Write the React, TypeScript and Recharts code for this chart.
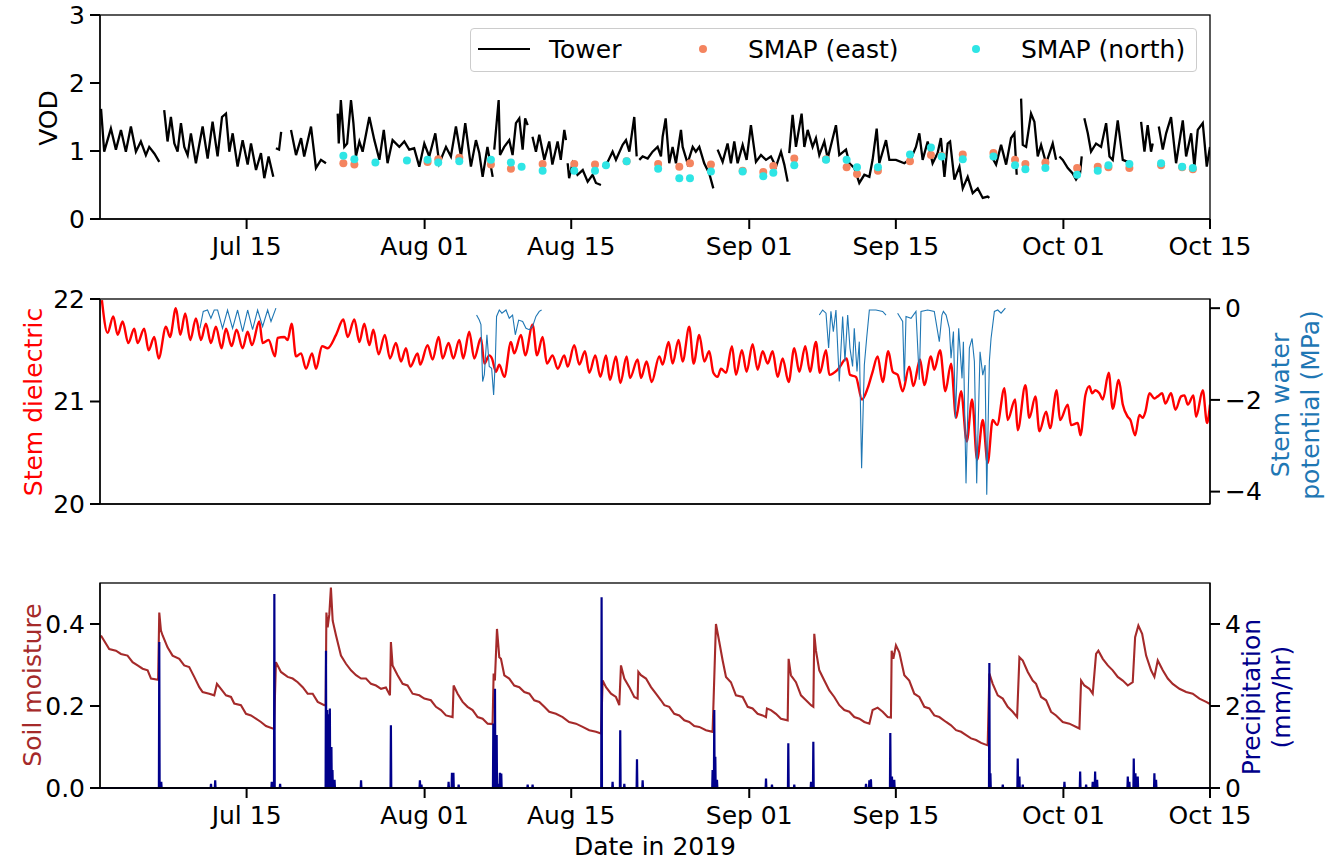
import React from 'react';
import { LineChart, Line, XAxis, YAxis } from 'recharts';

type Pt = [number, number];

// x values are days since Jul 1 2019 00:00
const dateTicks = [14, 31, 45, 62, 76, 92, 106];
const dateLabels = ['Jul 15', 'Aug 01', 'Aug 15', 'Sep 01', 'Sep 15', 'Oct 01', 'Oct 15'];

// --- VOD tower (black), split where the record has gaps
const towerA: Pt[] = [[0.1,1.62],[0.4,0.99],[1.04,1.33],[1.52,1.02],[2.0,1.31],[2.47,0.99],[2.95,1.36],[3.43,0.99],[3.9,1.14],[4.38,0.94],[4.7,1.06],[5.2,0.96],[5.66,0.84]];
const towerB: Pt[] = [[6.13,1.6],[6.45,1.14],[6.77,1.5],[7.1,1.11],[7.41,0.99],[7.73,1.41],[8.05,1.06],[8.37,0.94],[8.68,1.26],[9.16,0.82],[9.5,1.11],[9.8,1.36],[10.28,0.89],[10.75,1.43],[11.23,0.92],[11.65,1.5],[12.03,1.55],[12.35,0.99],[12.67,1.26],[13.14,0.77],[13.62,1.16],[14.1,0.8],[14.42,1.11],[14.9,0.72],[15.37,0.97],[15.69,0.6],[16.1,0.92],[16.55,0.62]];
const towerC: Pt[] = [[16.8,1.04],[17.1,1.02],[17.3,1.28]];
const towerD: Pt[] = [[18.24,1.31],[18.72,0.94],[19.2,1.19],[19.5,0.92],[20.15,1.36],[20.62,0.75],[21.1,0.87],[21.58,0.82]];
const towerE: Pt[] = [[22.7,1.55],[22.8,1.11],[23.0,1.75],[23.33,1.06],[23.6,1.11],[23.97,1.75],[24.2,1.41],[24.44,0.92],[24.77,1.14],[25.08,0.99],[25.72,1.5],[26.2,1.16],[26.68,0.87],[27.1,1.31],[27.46,0.82],[27.94,1.16],[28.58,1.06],[29.06,1.14],[29.53,1.02],[30.0,1.04],[30.49,0.77],[30.97,1.11],[31.44,0.92],[32.02,1.26],[32.4,0.82],[33.04,1.06],[33.51,0.92],[33.99,1.36],[34.47,0.92],[34.88,1.41],[35.42,0.77],[35.9,1.16],[36.22,0.97],[36.54,0.62],[37.0,1.06],[37.5,0.62]];
const towerF: Pt[] = [[37.65,1.02],[38.07,1.75],[38.2,0.94],[38.6,1.06],[39.08,1.16],[39.4,0.94],[39.72,1.41],[40.04,1.48],[40.36,1.02],[40.6,1.48],[40.84,1.38]];
const towerG: Pt[] = [[41.3,1.21],[41.63,0.99],[41.95,1.24],[42.43,0.87],[42.9,1.14],[43.2,0.8],[43.7,1.14],[44.0,0.87],[44.34,1.31],[44.5,1.16]];
const towerH: Pt[] = [[44.66,0.82],[44.8,0.6],[45.13,0.82],[45.6,0.65],[46.1,0.72],[46.57,0.55],[47.04,0.65],[47.36,0.53],[47.84,0.5]];
const towerI: Pt[] = [[48.0,0.77],[48.48,0.84],[48.95,0.99],[49.27,0.87],[49.91,1.09],[50.23,1.16],[50.55,0.99],[51.02,1.5],[51.25,0.92]];
const towerJ: Pt[] = [[51.5,0.87],[51.82,0.92],[52.3,0.89],[52.77,0.99],[53.25,1.06],[53.57,0.92],[53.73,1.21],[54.02,1.48],[54.36,0.82],[54.68,1.06],[55.0,0.82],[55.48,1.31],[55.64,1.06],[56.11,0.82],[56.6,1.06],[56.9,0.99],[57.23,1.06],[57.7,0.82],[58.18,0.67],[58.57,0.45]];
const towerK: Pt[] = [[58.98,1.02],[59.46,0.84],[59.93,1.11],[60.25,0.82],[60.57,1.14],[60.89,0.82],[61.37,1.09],[61.75,0.87],[62.16,1.38],[62.64,0.84],[63.12,0.94],[63.6,0.87],[64.07,0.92],[64.55,0.77],[65.03,0.99],[65.35,0.8],[65.67,0.55]];
const towerL: Pt[] = [[65.82,0.97],[66.14,1.53],[66.46,1.06],[67.0,1.55],[67.26,1.06],[67.58,1.31],[68.05,1.06],[68.37,1.19],[68.69,0.94],[69.17,1.14],[69.49,0.89],[70.28,1.38],[70.6,0.94],[71.24,1.02],[71.56,0.82],[72.03,0.75],[72.51,0.53],[72.99,0.65],[73.47,0.62],[73.78,0.87],[74.17,1.33],[74.42,0.82],[75.06,1.16],[75.38,0.87],[76.01,0.87],[76.81,0.82],[77.45,0.89],[77.92,1.06],[78.24,1.26],[78.56,0.87],[79.04,1.14],[79.51,0.82],[79.99,0.97],[80.3,1.19],[80.64,0.62],[80.95,1.11],[81.18,1.14],[81.59,0.58],[82.07,0.77],[82.39,0.45],[82.86,0.62],[83.34,0.38],[83.82,0.45],[84.3,0.31],[84.77,0.33],[84.93,0.31]];
const towerM: Pt[] = [[85.25,0.89],[85.57,0.8],[86.05,1.09],[86.53,0.8],[87.0,1.19],[87.32,1.26],[87.54,0.65]];
const towerN: Pt[] = [[87.96,1.77],[88.12,1.09],[88.44,1.06],[88.91,1.55],[89.23,1.43],[89.55,0.92],[89.87,1.09],[90.35,0.82],[90.98,1.11],[91.3,0.87]];
const towerO: Pt[] = [[91.62,0.92],[91.94,0.87],[92.42,0.75],[92.89,0.67],[93.21,0.58],[93.59,0.67],[93.75,0.92]];
const towerP: Pt[] = [[94.0,1.48],[94.33,1.26],[94.64,0.99],[95.12,1.11],[95.6,1.06],[96.08,1.41],[96.4,0.92],[96.71,0.87],[97.19,1.45],[97.67,0.87],[98.15,0.84]];
const towerQ: Pt[] = [[99.42,1.43],[99.74,0.99],[100.05,1.38],[100.37,0.99],[100.53,1.11]];
const towerR: Pt[] = [[101.11,1.36],[101.49,1.02],[101.81,1.26],[102.28,1.5],[102.76,0.82],[103.4,1.45],[103.72,0.92],[104.2,1.26],[104.51,0.77],[104.83,1.31],[105.31,1.41],[105.69,0.77],[106.0,1.06]];
const towerSegments = [towerA, towerB, towerC, towerD, towerE, towerF, towerG, towerH, towerI, towerJ, towerK, towerL, towerM, towerN, towerO, towerP, towerQ, towerR];

// --- SMAP overpasses
const smapEast: Pt[] = [[23.24,0.82],[24.29,0.8],[31.28,0.84],[32.3,0.88],[34.31,0.9],[37.33,0.8],[39.24,0.74],[42.27,0.81],[45.29,0.81],[47.27,0.8],[50.29,0.85],[53.3,0.81],[55.32,0.77],[56.34,0.82],[58.34,0.8],[61.37,0.71],[63.34,0.69],[64.3,0.78],[66.3,0.89],[69.33,0.88],[71.3,0.76],[72.29,0.66],[74.29,0.71],[77.35,0.85],[79.35,0.94],[80.37,0.93],[82.39,0.95],[85.32,0.97],[87.38,0.87],[88.37,0.81],[90.28,0.83],[93.31,0.75],[95.28,0.77],[96.3,0.76],[98.3,0.75],[101.33,0.79],[103.34,0.76],[104.36,0.73]];
const smapNorth: Pt[] = [[23.24,0.93],[24.29,0.88],[26.3,0.83],[29.31,0.86],[31.28,0.87],[32.3,0.83],[34.31,0.85],[37.33,0.87],[39.24,0.83],[40.26,0.77],[42.27,0.71],[45.29,0.71],[47.27,0.71],[48.32,0.79],[50.29,0.85],[53.3,0.74],[55.32,0.6],[56.34,0.6],[58.34,0.7],[61.37,0.7],[63.34,0.63],[64.3,0.68],[66.3,0.79],[69.33,0.87],[71.3,0.87],[72.29,0.76],[74.29,0.76],[77.35,0.95],[79.35,1.05],[80.37,0.92],[82.39,0.88],[85.32,0.92],[87.38,0.79],[88.37,0.73],[90.28,0.75],[93.31,0.65],[95.28,0.71],[96.3,0.79],[98.3,0.81],[101.33,0.82],[103.34,0.77],[104.36,0.75]];

// --- Stem dielectric (red, left axis)
const dielectric: Pt[] = [[0.18,21.99],[0.72,21.67],[1.27,21.83],[1.68,21.65],[2.16,21.78],[2.7,21.57],[3.27,21.71],[3.59,21.57],[4.22,21.71],[4.64,21.5],[5.18,21.63],[5.6,21.42],[6.3,21.73],[6.68,21.63],[7.25,21.91],[7.67,21.65],[8.14,21.86],[8.62,21.6],[9.16,21.81],[9.64,21.6],[10.12,21.76],[10.59,21.57],[11.07,21.73],[11.61,21.52],[12.03,21.71],[12.57,21.54],[13.04,21.7],[13.62,21.52],[14.1,21.68],[14.51,21.55],[15.21,21.78],[15.53,21.57],[16.1,21.6],[16.71,21.44],[16.96,21.62],[17.6,21.63],[17.92,21.6],[18.3,21.76],[18.72,21.44],[19.2,21.47],[19.67,21.32],[20.25,21.47],[20.63,21.32],[21.2,21.54],[21.74,21.52],[22.54,21.65],[23.24,21.8],[23.65,21.63],[24.29,21.8],[24.77,21.58],[25.24,21.76],[25.72,21.55],[26.1,21.7],[26.61,21.46],[27.2,21.65],[27.69,21.42],[28.26,21.57],[28.74,21.39],[29.22,21.52],[29.63,21.34],[30.33,21.47],[30.58,21.36],[31.28,21.55],[31.76,21.41],[32.34,21.63],[32.72,21.42],[33.29,21.57],[33.74,21.42],[34.31,21.6],[34.69,21.42],[35.26,21.68],[35.74,21.42],[36.38,21.62],[36.7,21.37],[37.17,21.45],[37.43,21.42],[37.81,21.29],[38.13,21.36],[38.61,21.24],[39.24,21.58],[39.56,21.47],[40.2,21.65],[40.61,21.45],[41.31,21.75],[41.73,21.45],[42.27,21.63],[42.68,21.37],[43.22,21.45],[43.7,21.32],[44.34,21.45],[44.66,21.34],[45.29,21.55],[45.77,21.36],[46.31,21.49],[46.73,21.28],[47.3,21.45],[47.78,21.24],[48.32,21.45],[48.7,21.21],[49.27,21.44],[49.69,21.18],[50.29,21.44],[50.61,21.23],[51.34,21.41],[51.66,21.23],[52.2,21.39],[52.68,21.19],[53.41,21.44],[53.73,21.36],[54.3,21.58],[54.68,21.37],[55.25,21.6],[55.64,21.39],[56.27,21.73],[56.69,21.37],[57.23,21.65],[57.71,21.39],[58.18,21.49],[58.57,21.28],[58.98,21.24],[59.3,21.32],[59.78,21.28],[60.35,21.54],[60.73,21.26],[61.3,21.5],[61.75,21.29],[62.32,21.56],[62.8,21.31],[63.28,21.49],[63.76,21.37],[64.23,21.49],[64.71,21.24],[65.19,21.42],[65.76,21.19],[66.3,21.52],[66.78,21.29],[67.35,21.54],[67.8,21.29],[68.37,21.58],[68.75,21.28],[69.33,21.5],[69.65,21.26],[70.44,21.31],[71.3,21.42],[71.62,21.26],[72.19,21.24],[72.76,21.02],[73.31,21.13],[73.78,21.29],[74.26,21.44],[74.74,21.19],[75.28,21.49],[75.7,21.29],[76.17,21.26],[76.65,21.1],[77.28,21.34],[77.67,21.15],[78.31,21.41],[78.72,21.16],[79.35,21.44],[79.67,21.31],[80.22,21.5],[80.73,21.1],[81.27,21.37],[81.75,20.84],[82.23,21.1],[82.77,20.61],[83.28,21.02],[83.76,20.43],[84.3,20.82],[84.77,20.4],[85.25,20.82],[85.67,20.77],[86.37,21.13],[86.68,20.82],[87.39,21.02],[87.64,20.72],[88.37,21.16],[88.75,20.84],[89.33,21.05],[89.71,20.71],[90.35,20.9],[90.73,20.74],[91.36,21.11],[91.68,20.82],[92.42,20.97],[92.73,20.77],[93.37,20.79],[93.63,20.67],[94.1,21.06],[94.48,21.15],[94.74,21.08],[95.06,21.11],[95.44,21.08],[95.76,21.02],[96.33,21.28],[96.71,20.93],[97.29,21.21],[97.67,20.97],[98.15,20.85],[98.4,20.82],[98.85,20.67],[99.26,20.87],[99.58,20.84],[99.83,20.9],[100.22,21.08],[100.69,21.03],[101.01,21.05],[101.43,21.08],[101.74,20.98],[102.28,21.08],[102.7,20.92],[103.24,21.05],[103.56,21.06],[103.88,20.97],[104.42,21.06],[104.67,20.85],[105.31,21.11],[105.72,20.79],[106.0,20.97]];

// --- Stem water potential (MPa, right axis), four logging periods
const waterPot1: Pt[] = [[9.54,-0.44],[9.86,-0.07],[10.27,-0.04],[10.59,-0.22],[10.91,-0.04],[11.23,-0.04],[11.7,-0.44],[12.18,-0.04],[12.66,-0.44],[13.14,-0.04],[13.62,-0.51],[14.1,-0.04],[14.57,-0.47],[15.05,-0.04],[15.53,-0.4],[16.01,-0.04],[16.33,-0.29],[16.8,0.0]];
const waterPot2: Pt[] = [[35.96,-0.15],[36.22,-0.26],[36.38,-0.36],[36.54,-1.6],[36.7,-1.45],[36.95,-0.58],[37.17,-1.27],[37.4,-1.31],[37.59,-1.89],[37.75,-1.16],[37.87,-0.18],[38.13,-0.04],[38.38,-0.11],[38.77,-0.04],[39.08,-0.22],[39.4,-0.15],[39.66,-0.58],[39.98,-0.26],[40.36,-0.29],[40.68,-0.44],[40.99,-0.47],[41.31,-0.4],[41.63,-0.18],[41.95,-0.07],[42.17,-0.04]];
const waterPot3: Pt[] = [[68.69,-0.15],[69.01,-0.04],[69.33,-0.11],[69.58,-0.87],[69.8,-0.07],[70.03,-0.51],[70.28,-0.04],[70.6,-1.6],[70.92,-0.18],[71.14,-1.16],[71.4,-0.15],[71.62,-0.87],[71.87,-1.27],[72.03,-0.44],[72.29,-1.38],[72.51,-0.73],[72.73,-3.49],[72.99,-1.24],[73.21,-0.66],[73.47,-0.04],[74.1,-0.04],[74.74,-0.07],[75.06,-0.15]];
const waterPot4: Pt[] = [[76.17,-0.11],[76.65,-0.29],[76.81,-1.6],[76.97,-0.18],[77.45,-0.22],[77.92,-0.07],[78.24,-1.56],[78.4,-0.07],[79.04,-0.04],[79.67,-0.07],[80.15,-0.73],[80.4,-0.15],[80.54,-0.07],[80.8,-0.15],[81.11,-0.44],[81.27,-1.09],[81.5,-0.51],[81.69,-2.4],[82.0,-0.44],[82.32,-1.53],[82.45,-0.73],[82.7,-3.82],[83.02,-0.87],[83.28,-0.66],[83.5,-1.16],[83.72,-3.82],[84.04,-0.95],[84.3,-1.46],[84.52,-1.24],[84.68,-4.07],[84.93,-1.16],[85.09,-0.66],[85.41,-0.07],[85.73,-0.04],[86.05,-0.11],[86.46,0.0]];
const waterPotSegments = [waterPot1, waterPot2, waterPot3, waterPot4];

// --- Soil moisture (left axis)
const soilMoisture: Pt[] = [[0.09,0.372],[0.88,0.339],[1.52,0.335],[2.0,0.327],[2.63,0.323],[3.11,0.307],[3.59,0.299],[4.07,0.291],[4.55,0.287],[4.87,0.267],[5.55,0.264],[5.66,0.428],[5.82,0.384],[5.98,0.372],[6.45,0.343],[6.93,0.323],[7.57,0.315],[8.04,0.299],[8.52,0.295],[9.0,0.271],[9.48,0.246],[9.8,0.234],[10.43,0.23],[10.91,0.226],[11.17,0.254],[11.55,0.242],[12.03,0.226],[12.51,0.222],[12.82,0.206],[13.46,0.202],[13.94,0.181],[14.42,0.177],[14.89,0.169],[15.37,0.161],[15.85,0.151],[16.49,0.145],[16.62,0.145],[16.8,0.307],[17.28,0.283],[17.92,0.271],[18.4,0.267],[18.88,0.258],[19.36,0.246],[19.83,0.23],[20.31,0.23],[20.79,0.21],[21.42,0.202],[21.55,0.202],[21.62,0.428],[21.74,0.392],[21.9,0.424],[22.05,0.489],[22.22,0.408],[22.54,0.372],[23.01,0.323],[23.49,0.303],[23.97,0.287],[24.45,0.275],[24.93,0.267],[25.4,0.267],[25.88,0.254],[26.36,0.25],[26.84,0.242],[27.3,0.245],[27.69,0.226],[27.78,0.356],[27.94,0.299],[28.42,0.275],[28.9,0.254],[29.37,0.25],[29.85,0.23],[30.49,0.226],[30.97,0.218],[31.6,0.214],[32.08,0.198],[32.56,0.19],[33.04,0.177],[33.67,0.173],[33.77,0.25],[34.15,0.23],[34.63,0.21],[35.1,0.198],[35.58,0.19],[36.06,0.173],[36.54,0.169],[37.02,0.157],[37.49,0.156],[37.59,0.279],[37.71,0.262],[37.91,0.388],[38.13,0.319],[38.29,0.315],[38.61,0.275],[39.08,0.267],[39.56,0.25],[40.04,0.246],[40.52,0.234],[41.0,0.23],[41.47,0.214],[41.95,0.21],[42.43,0.198],[42.9,0.186],[43.54,0.181],[44.18,0.173],[44.8,0.161],[45.45,0.157],[46.09,0.149],[46.72,0.141],[47.36,0.137],[47.85,0.133],[48.0,0.262],[48.32,0.246],[48.8,0.23],[49.27,0.222],[49.59,0.202],[49.75,0.299],[50.07,0.267],[50.55,0.246],[51.02,0.222],[51.34,0.218],[51.41,0.283],[51.66,0.275],[52.14,0.267],[52.62,0.246],[53.09,0.23],[53.57,0.214],[53.89,0.202],[54.36,0.198],[54.84,0.181],[55.32,0.177],[55.8,0.165],[56.27,0.161],[56.75,0.151],[57.23,0.149],[57.87,0.141],[58.5,0.137],[58.82,0.4],[59.14,0.356],[59.46,0.311],[59.78,0.271],[60.25,0.258],[60.73,0.226],[61.37,0.222],[61.85,0.198],[62.32,0.194],[62.8,0.181],[63.28,0.177],[63.6,0.173],[63.69,0.194],[64.07,0.19],[64.55,0.181],[65.03,0.169],[65.67,0.165],[65.76,0.315],[65.98,0.275],[66.46,0.258],[66.94,0.226],[67.42,0.214],[67.9,0.202],[68.12,0.198],[68.21,0.376],[68.37,0.335],[68.69,0.287],[69.17,0.262],[69.65,0.238],[70.12,0.222],[70.6,0.202],[71.08,0.19],[71.56,0.186],[72.03,0.173],[72.51,0.169],[72.99,0.161],[73.47,0.157],[73.78,0.19],[74.26,0.196],[74.74,0.186],[75.22,0.173],[75.53,0.172],[75.6,0.335],[75.76,0.315],[76.01,0.348],[76.33,0.331],[76.81,0.275],[77.28,0.262],[77.76,0.23],[78.24,0.222],[78.72,0.198],[79.2,0.194],[79.67,0.177],[80.15,0.173],[80.8,0.161],[81.27,0.153],[81.75,0.141],[82.23,0.137],[82.71,0.129],[83.18,0.121],[83.66,0.117],[84.14,0.11],[84.77,0.104],[84.93,0.279],[85.25,0.254],[85.73,0.226],[86.21,0.218],[86.68,0.198],[87.16,0.186],[87.58,0.173],[87.8,0.319],[88.12,0.311],[88.6,0.283],[89.07,0.262],[89.39,0.254],[89.87,0.222],[90.35,0.214],[90.82,0.186],[91.3,0.177],[91.94,0.161],[92.57,0.157],[93.53,0.145],[93.69,0.262],[94.0,0.25],[94.48,0.242],[94.8,0.23],[95.12,0.327],[95.34,0.335],[95.76,0.315],[96.24,0.299],[96.71,0.287],[97.19,0.271],[97.67,0.262],[98.15,0.25],[98.62,0.258],[98.85,0.368],[99.16,0.396],[99.52,0.376],[99.9,0.323],[100.37,0.287],[100.69,0.271],[101.01,0.311],[101.49,0.287],[101.97,0.267],[102.44,0.254],[103.08,0.242],[103.72,0.234],[104.35,0.23],[104.99,0.218],[105.63,0.21],[106.0,0.205]];

// --- Precipitation events (mm/hr, right axis); zero in between
const rainEvents: Pt[] = [[5.66,3.56],[5.85,0.15],[10.6,0.1],[11.0,0.19],[16.4,0.15],[16.65,4.73],[17.2,0.1],[21.58,3.35],[21.7,1.9],[21.8,1.8],[21.95,1.94],[22.1,1.0],[22.2,0.44],[22.4,0.2],[24.93,0.19],[27.78,1.53],[30.55,0.19],[30.7,0.08],[33.29,0.15],[33.61,0.37],[33.75,0.37],[34.25,0.08],[37.56,1.57],[37.72,2.42],[37.88,1.29],[38.0,0.1],[38.19,0.37],[38.32,0.35],[40.84,0.08],[41.31,0.08],[47.9,4.65],[48.95,0.15],[49.68,1.41],[50.07,0.1],[51.28,0.7],[51.82,0.19],[58.5,0.44],[58.66,1.9],[58.76,0.76],[58.92,0.2],[63.6,0.23],[64.17,0.08],[65.73,1.09],[66.3,0.08],[67.9,0.15],[68.12,1.13],[73.15,0.1],[73.47,0.19],[73.62,0.21],[75.47,1.34],[75.63,0.28],[75.85,0.2],[84.93,3.05],[85.03,0.36],[86.21,0.08],[87.64,0.72],[87.8,0.28],[88.12,0.08],[92.1,0.15],[93.6,0.4],[94.17,0.08],[94.8,0.15],[95.03,0.4],[95.22,0.2],[98.15,0.28],[98.3,0.15],[98.72,0.72],[98.88,0.36],[99.1,0.28],[100.69,0.36],[100.85,0.2]];

const FONT = "'DejaVu Sans', 'Liberation Sans', sans-serif";
const FS = 25;
const W = 1338;
const EAST = '#f4845f';
const NORTH = '#2ee5e5';

const rows = (pts: Pt[]) => pts.map(([d, v]) => ({ d, v }));

const rainRows = (() => {
  const out: { d: number; v: number }[] = [{ d: 0, v: 0 }];
  [...rainEvents].sort((a, b) => a[0] - b[0]).forEach(([d, v]) => {
    out.push({ d: d - 0.035, v: 0 }, { d, v }, { d: d + 0.035, v: 0 });
  });
  out.push({ d: 106, v: 0 });
  return out;
})();

const minus = (v: number | string) => String(v).replace('-', '\u2212');
const tickStyle = { fill: '#000', fontSize: FS, fontFamily: FONT };
const spine = { stroke: '#000', strokeWidth: 1.3 };
const tickLine = { stroke: '#000', strokeWidth: 2 };

const dateAxis = (showLabels: boolean, height: number) => (
  <XAxis
    type="number"
    dataKey="d"
    domain={[0, 106]}
    ticks={dateTicks}
    interval={0}
    allowDataOverflow
    height={height}
    tickSize={10}
    tickMargin={8}
    axisLine={spine}
    tickLine={tickLine}
    tick={showLabels ? tickStyle : false}
    tickFormatter={(d: number) => dateLabels[dateTicks.indexOf(d)] ?? ''}
  />
);

function VodLegend() {
  return (
    <div style={{ position: 'absolute', left: 470, top: 28, width: 727, height: 44, border: '1px solid #cccccc', borderRadius: 4, background: 'rgba(255,255,255,0.85)', boxSizing: 'border-box' }}>
      <svg width={727} height={44} style={{ position: 'absolute', left: -1, top: -1 }}>
        <line x1={8} x2={60} y1={21} y2={21} stroke="#000" strokeWidth={2} />
        <text x={79} y={21} dominantBaseline="central" fontSize={FS} fontFamily={FONT}>Tower</text>
        <circle cx={233} cy={21} r={4} fill={EAST} />
        <text x={278} y={21} dominantBaseline="central" fontSize={FS} fontFamily={FONT}>SMAP (east)</text>
        <circle cx={506} cy={21} r={4} fill={NORTH} />
        <text x={551} y={21} dominantBaseline="central" fontSize={FS} fontFamily={FONT}>SMAP (north)</text>
      </svg>
    </div>
  );
}

function Title({ x, y, text, color, rotate = true }: { x: number; y: number; text: string; color: string; rotate?: boolean }) {
  return (
    <text
      x={x}
      y={y}
      transform={rotate ? `rotate(-90 ${x} ${y})` : undefined}
      textAnchor="middle"
      dominantBaseline="central"
      fill={color}
      fontSize={FS}
      fontFamily={FONT}
    >
      {text}
    </text>
  );
}

export default function App() {
  return (
    <div style={{ position: 'absolute', left: 0, top: 0, width: W, height: 862, background: '#fff', overflow: 'hidden' }}>
      {/* VOD panel */}
      <div style={{ position: 'absolute', left: 0, top: 0 }}>
        <LineChart width={W} height={270} margin={{ top: 15, right: 128, bottom: 11, left: 0 }}>
          {dateAxis(true, 40)}
          <YAxis domain={[0, 3]} ticks={[0, 1, 2, 3]} width={100} tickSize={10} tickMargin={5} axisLine={spine} tickLine={tickLine} tick={tickStyle} />
          {towerSegments.map((seg, i) => (
            <Line key={i} data={rows(seg)} dataKey="v" stroke="#000" strokeWidth={2.3} dot={false} isAnimationActive={false} />
          ))}
          <Line data={rows(smapEast)} dataKey="v" stroke="none" strokeWidth={0} dot={{ r: 4, fill: EAST, stroke: 'none' }} isAnimationActive={false} />
          <Line data={rows(smapNorth)} dataKey="v" stroke="none" strokeWidth={0} dot={{ r: 4, fill: NORTH, stroke: 'none' }} isAnimationActive={false} />
        </LineChart>
        <VodLegend />
      </div>

      {/* Stem panel */}
      <div style={{ position: 'absolute', left: 0, top: 280 }}>
        <LineChart width={W} height={260} margin={{ top: 19, right: 78, bottom: 16, left: 0 }}>
          {dateAxis(false, 20)}
          <YAxis domain={[20, 22]} ticks={[20, 21, 22]} width={100} tickSize={10} tickMargin={5} axisLine={spine} tickLine={tickLine} tick={tickStyle} />
          <YAxis yAxisId="right" orientation="right" domain={[-4.27, 0.2]} ticks={[-4, -2, 0]} width={50} allowDataOverflow tickSize={10} tickMargin={5} axisLine={spine} tickLine={tickLine} tick={tickStyle} tickFormatter={minus} />
          <Line type="monotone" data={rows(dielectric)} dataKey="v" stroke="#ff0000" strokeWidth={2.4} dot={false} isAnimationActive={false} />
          {waterPotSegments.map((seg, i) => (
            <Line key={i} yAxisId="right" data={rows(seg)} dataKey="v" stroke="#1f77b4" strokeWidth={1.1} dot={false} isAnimationActive={false} />
          ))}
        </LineChart>
      </div>

      {/* Soil moisture / precipitation panel */}
      <div style={{ position: 'absolute', left: 0, top: 560 }}>
        <LineChart width={W} height={302} margin={{ top: 23, right: 78, bottom: 34, left: 0 }}>
          {dateAxis(true, 40)}
          <YAxis domain={[0, 0.5]} ticks={[0, 0.2, 0.4]} width={100} tickSize={10} tickMargin={5} axisLine={spine} tickLine={tickLine} tick={tickStyle} tickFormatter={(v: number) => v.toFixed(1)} />
          <YAxis yAxisId="right" orientation="right" domain={[0, 5]} ticks={[0, 2, 4]} width={50} tickSize={10} tickMargin={5} axisLine={spine} tickLine={tickLine} tick={tickStyle} />
          <Line data={rows(soilMoisture)} dataKey="v" stroke="#a52a2a" strokeWidth={2.1} dot={false} isAnimationActive={false} />
          <Line yAxisId="right" data={rainRows} dataKey="v" stroke="#00008b" strokeWidth={2.2} dot={false} isAnimationActive={false} />
        </LineChart>
      </div>

      {/* frames and axis titles */}
      <svg width={W} height={862} style={{ position: 'absolute', left: 0, top: 0, pointerEvents: 'none' }}>
        <rect x={100} y={15} width={1110} height={204} fill="none" stroke="#000" strokeWidth={1.3} />
        <rect x={100} y={299} width={1110} height={205} fill="none" stroke="#000" strokeWidth={1.3} />
        <rect x={100} y={583} width={1110} height={205} fill="none" stroke="#000" strokeWidth={1.3} />
        <Title x={48} y={118} text="VOD" color="#000" />
        <Title x={33} y={402} text="Stem dielectric" color="#ff0000" />
        <Title x={1280} y={405} text="Stem water" color="#1f77b4" />
        <Title x={1310} y={405} text="potential (MPa)" color="#1f77b4" />
        <Title x={32} y={685} text="Soil moisture" color="#a52a2a" />
        <Title x={1251} y={697} text="Precipitation" color="#00008b" />
        <Title x={1281} y={697} text="(mm/hr)" color="#00008b" />
        <Title x={655} y={846} text="Date in 2019" color="#000" rotate={false} />
      </svg>
    </div>
  );
}
